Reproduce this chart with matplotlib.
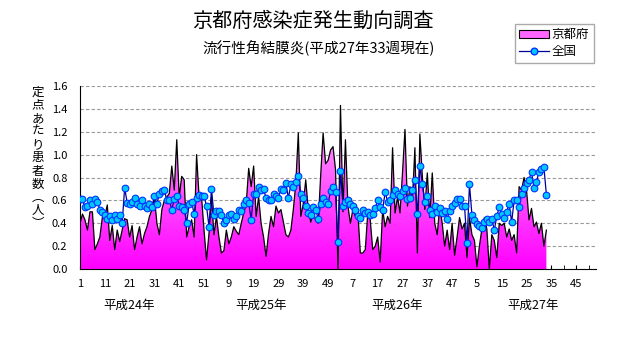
import numpy as np
import matplotlib.pyplot as plt
from matplotlib.patches import Polygon, Patch
from matplotlib.lines import Line2D
from matplotlib.colors import LinearSegmentedColormap

plt.rcParams['font.family'] = ['Noto Sans CJK JP', 'DejaVu Sans']

# 定点あたり患者数, weekly (平成24年 week 1 .. 平成27年 week 33)
kyoto_2012 = [0.40, 0.48, 0.43, 0.34, 0.50, 0.50, 0.17, 0.22, 0.28, 0.45,
              0.46, 0.56, 0.25, 0.38, 0.17, 0.34, 0.24, 0.34, 0.44, 0.43,
              0.28, 0.38, 0.17, 0.28, 0.37, 0.22, 0.31, 0.37, 0.46, 0.52,
              0.63, 0.40, 0.30, 0.52, 0.60, 0.63, 0.66, 0.90, 0.69, 1.13,
              0.63, 0.81, 0.78, 0.28, 0.37, 0.43, 0.28, 1.00, 0.63, 0.63,
              0.34, 0.08]
kyoto_2013 = [0.31, 0.63, 0.30, 0.46, 0.28, 0.14, 0.16, 0.34, 0.22, 0.28,
              0.37, 0.33, 0.30, 0.40, 0.49, 0.57, 0.88, 0.72, 0.90, 0.46,
              0.63, 0.40, 0.28, 0.11, 0.31, 0.46, 0.37, 0.55, 0.49, 0.52,
              0.41, 0.30, 0.28, 0.34, 0.52, 0.75, 1.19, 0.46, 0.57, 0.78,
              0.52, 0.41, 0.49, 0.43, 0.40, 0.81, 1.19, 0.92, 0.95, 1.04,
              1.07, 0.87]
kyoto_2014 = [0.00, 1.43, 0.50, 1.13, 0.55, 0.40, 0.52, 0.46, 0.50, 0.14,
              0.14, 0.17, 0.49, 0.43, 0.17, 0.20, 0.28, 0.06, 0.52, 0.37,
              0.46, 0.40, 1.06, 0.49, 0.63, 0.49, 0.84, 1.22, 0.55, 0.72,
              0.60, 1.06, 0.14, 1.18, 0.81, 0.52, 0.84, 0.45, 0.84, 0.40,
              0.30, 0.55, 0.40, 0.20, 0.34, 0.17, 0.40, 0.12, 0.28, 0.45,
              0.35, 0.40]
kyoto_2015 = [0.10, 0.45, 0.30, 0.25, 0.02, 0.20, 0.35, 0.45, 0.35, 0.00,
              0.30, 0.25, 0.10, 0.40, 0.38, 0.40, 0.28, 0.35, 0.25, 0.30,
              0.14, 0.72, 0.69, 0.80, 0.69, 0.43, 0.53, 0.37, 0.41, 0.31,
              0.40, 0.20, 0.34]

zenkoku_2012 = [0.61, 0.61, 0.54, 0.55, 0.60, 0.57, 0.61, 0.59, 0.52, 0.50,
                0.47, 0.44, 0.46, 0.43, 0.47, 0.44, 0.47, 0.40, 0.71, 0.58,
                0.57, 0.59, 0.62, 0.57, 0.55, 0.60, 0.55, 0.53, 0.57, 0.54,
                0.64, 0.57, 0.66, 0.68, 0.69, 0.60, 0.60, 0.52, 0.61, 0.64,
                0.55, 0.54, 0.52, 0.40, 0.57, 0.59, 0.48, 0.62, 0.65, 0.64,
                0.64, 0.55]
zenkoku_2013 = [0.37, 0.70, 0.47, 0.51, 0.51, 0.47, 0.40, 0.43, 0.47, 0.48,
                0.44, 0.46, 0.52, 0.51, 0.57, 0.60, 0.58, 0.43, 0.66, 0.66,
                0.72, 0.69, 0.70, 0.62, 0.60, 0.60, 0.66, 0.64, 0.62, 0.70,
                0.69, 0.75, 0.62, 0.74, 0.72, 0.76, 0.81, 0.66, 0.62, 0.55,
                0.49, 0.47, 0.54, 0.52, 0.44, 0.57, 0.62, 0.59, 0.57, 0.68,
                0.72, 0.67]
zenkoku_2014 = [0.24, 0.86, 0.55, 0.59, 0.60, 0.57, 0.55, 0.52, 0.46, 0.45,
                0.52, 0.49, 0.50, 0.47, 0.48, 0.53, 0.60, 0.54, 0.52, 0.67,
                0.59, 0.60, 0.65, 0.69, 0.66, 0.64, 0.68, 0.71, 0.61, 0.62,
                0.69, 0.78, 0.48, 0.90, 0.74, 0.59, 0.64, 0.52, 0.48, 0.55,
                0.50, 0.53, 0.49, 0.51, 0.44, 0.51, 0.55, 0.58, 0.61, 0.61,
                0.55, 0.55]
zenkoku_2015 = [0.23, 0.74, 0.47, 0.43, 0.39, 0.38, 0.36, 0.41, 0.44, 0.41,
                0.44, 0.34, 0.46, 0.54, 0.48, 0.45, 0.50, 0.57, 0.41, 0.60,
                0.60, 0.54, 0.66, 0.71, 0.75, 0.78, 0.85, 0.71, 0.76, 0.85,
                0.87, 0.89, 0.65]

week_labels = ['1', '11', '21', '31', '41', '51', '9', '19', '29', '39', '49',
               '7', '17', '27', '37', '47', '5', '15', '25', '35', '45']
year_labels = ['平成24年', '平成25年', '平成26年', '平成27年']
year_label_x = [0.205, 0.414, 0.630, 0.845]   # figure fraction
n_weeks = 209  # 52 * 3 + 53 categories on the axis

kyoto = np.array(kyoto_2012 + kyoto_2013 + kyoto_2014 + kyoto_2015)
zenkoku = np.array(zenkoku_2012 + zenkoku_2013 + zenkoku_2014 + zenkoku_2015)
x = np.arange(len(kyoto))

fig = plt.figure(figsize=(6.31, 3.47), dpi=100)
ax = fig.add_axes([80 / 631, 1 - 269 / 347, 516 / 631, 183 / 347])

# gradient filled area for 京都府
pink = LinearSegmentedColormap.from_list('pink', ['#ff00ff', '#ffb0ff'])
poly = Polygon(np.column_stack([np.r_[x[0], x, x[-1]], np.r_[0, kyoto, 0]]),
               closed=True, facecolor='none', edgecolor='none')
ax.add_patch(poly)
grad = np.linspace(0, 1, 256).reshape(-1, 1)
im = ax.imshow(grad, extent=[0, n_weeks - 1, 0, 1.45], origin='lower',
               aspect='auto', cmap=pink, zorder=2)
im.set_clip_path(poly)
ax.set_xlim(0, n_weeks - 1)
ax.set_ylim(0, 1.6)
ax.plot(x, kyoto, color='black', lw=0.9, zorder=3)

ax.plot(x, zenkoku, color='#000099', lw=0.9, marker='o', ms=4.8,
        mfc='#00c8ff', mec='#0033ff', mew=0.8, zorder=4)

# axes styling
yt = np.arange(0, 1.61, 0.2)
ax.set_yticks(yt)
ax.set_yticklabels(['%.1f' % v for v in yt], fontsize=8)
for v in yt[1:]:
    ax.axhline(v, color='#999999', lw=0.8, ls=(0, (3, 2)), zorder=1)
ax.tick_params(axis='y', length=0, pad=9)
ax.set_xticks(np.arange(0, n_weeks, 5), minor=True)
ax.set_xticks(np.arange(0, 201, 10))
ax.set_xticklabels(week_labels, fontsize=8)
ax.tick_params(axis='x', which='both', direction='in', length=3, pad=7)
ax.spines['top'].set_visible(False)
ax.spines['right'].set_visible(False)

for lab, xf in zip(year_labels, year_label_x):
    fig.text(xf, 1 - 305 / 347, lab, ha='center', va='center', fontsize=9)

fig.text(38 / 631, 1 - 158 / 347, '\n'.join('定点あたり患者数︵人︶'),
         ha='center', va='center', fontsize=9, linespacing=1.02)

fig.text(313 / 631, 1 - 21 / 347, '京都府感染症発生動向調査',
         ha='center', va='center', fontsize=14.5)
fig.text(435 / 631, 1 - 48 / 347, '流行性角結膜炎(平成27年33週現在)',
         ha='right', va='center', fontsize=10.5)

handles = [Patch(facecolor='#ff66ff', edgecolor='black', lw=0.8),
           Line2D([], [], color='#000099', lw=0.9, marker='o', ms=4.8,
                  mfc='#00c8ff', mec='#0033ff')]
leg = fig.legend(handles, ['京都府', '全国'], loc='upper left',
                 bbox_to_anchor=(515 / 631, 1 - 24 / 347), fontsize=9,
                 fancybox=False, framealpha=1, edgecolor='#aaaaaa',
                 handlelength=2.4, handleheight=0.6, borderpad=0.35,
                 labelspacing=0.3, handletextpad=0.2, borderaxespad=0)

fig.savefig('out.png', dpi=100)
